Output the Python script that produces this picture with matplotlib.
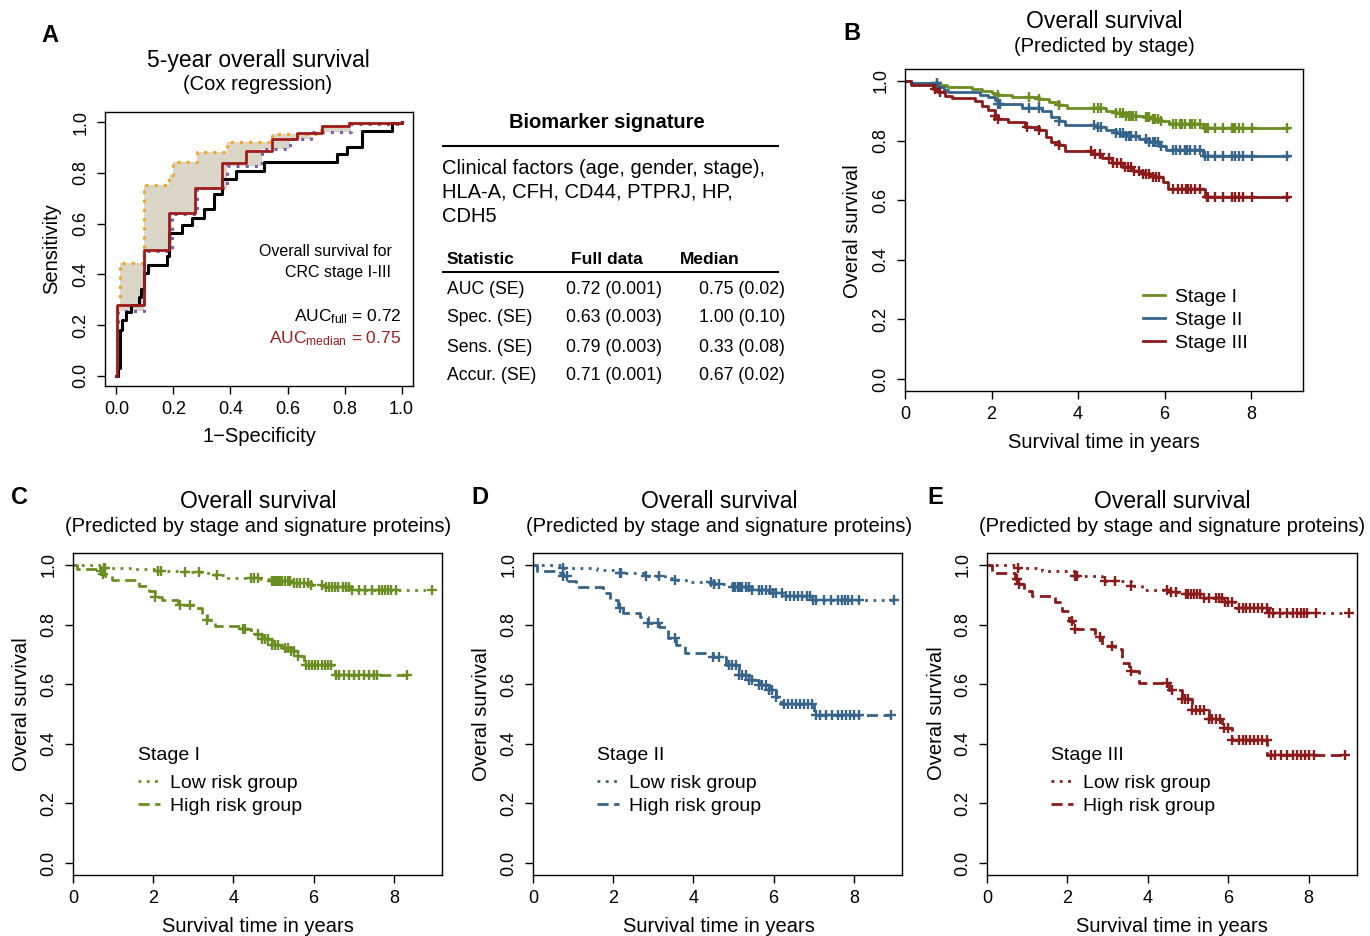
import numpy as np
import matplotlib
matplotlib.use("Agg")
import matplotlib.pyplot as plt

plt.rcParams['font.family'] = ['Liberation Sans', 'DejaVu Sans']
plt.rcParams['mathtext.fontset'] = 'custom'
plt.rcParams['mathtext.rm'] = 'Liberation Sans'
plt.rcParams['mathtext.it'] = 'Liberation Sans:italic'

W, H = 1370, 936
GREEN = '#6b8e23'
BLUE = '#36648b'
RED = '#8b1a1a'
ROC_RED = '#a01c1c'

# ---- panel A: ROC curves (fpr, sensitivity knots of step curves) ----
roc_full_fpr = [0, 0.004, 0.012, 0.02, 0.035, 0.051, 0.078, 0.087, 0.096, 0.11, 0.178, 0.186,
                0.23, 0.266, 0.306, 0.342, 0.371, 0.418, 0.517, 0.774, 0.809, 0.862, 0.967, 1.0]
roc_full_sens = [0, 0.03, 0.182, 0.221, 0.252, 0.281, 0.311, 0.343, 0.406, 0.436, 0.472, 0.564,
                 0.593, 0.623, 0.656, 0.715, 0.775, 0.808, 0.841, 0.874, 0.904, 0.966, 0.996, 1.0]
roc_med_fpr = [0, 0.003, 0.096, 0.186, 0.277, 0.371, 0.453, 0.546, 0.634, 0.722, 0.815, 1.0]
roc_med_sens = [0, 0.281, 0.498, 0.643, 0.742, 0.838, 0.887, 0.935, 0.959, 0.983, 0.996, 1.0]
roc_hi_fpr = [0, 0.003, 0.014, 0.096, 0.186, 0.2, 0.283, 0.389, 0.546, 0.716, 0.815, 1.0]
roc_hi_sens = [0, 0.281, 0.445, 0.751, 0.79, 0.843, 0.883, 0.92, 0.953, 0.985, 0.996, 1.0]
roc_lo_fpr = [0, 0.005, 0.096, 0.195, 0.283, 0.389, 0.511, 0.61, 0.681, 0.821, 1.0]
roc_lo_sens = [0, 0.254, 0.491, 0.637, 0.742, 0.828, 0.893, 0.933, 0.962, 0.992, 1.0]

# ---- panel B: KM by stage ----
st1_t = [0, 0.15, 0.77, 0.96, 1.54, 1.77, 2.0, 2.16, 2.47, 3.09, 3.33, 3.56, 3.75, 4.64, 4.87,
         5.1, 5.5, 5.73, 5.88, 6.1, 6.89]
st1_s = [1.0, 0.993, 0.985, 0.978, 0.972, 0.966, 0.958, 0.953, 0.947, 0.940, 0.930, 0.920, 0.910,
         0.900, 0.893, 0.884, 0.878, 0.872, 0.866, 0.856, 0.842]
st1_end = 8.86
st1_c = [0.74, 2.16, 2.86, 3.09, 3.56, 4.37, 4.45, 4.52, 4.88, 4.96, 5.03, 5.11, 5.17, 5.22, 5.28,
         5.34, 5.57, 5.61, 5.65, 5.73, 5.79, 5.85, 5.92, 6.2, 6.27, 6.35, 6.41, 6.47, 6.58, 6.64,
         6.70, 6.81, 6.93, 6.97, 7.01, 7.16, 7.36, 7.55, 7.6, 7.63, 7.71, 7.82, 8.02, 8.83]

st2_t = [0, 0.15, 0.77, 0.91, 1.0, 1.73, 1.93, 2.09, 2.16, 2.7, 3.17, 3.37, 3.56, 3.71, 4.41,
         4.64, 4.87, 5.1, 5.42, 5.65, 5.88, 6.04, 6.89]
st2_s = [1.0, 0.993, 0.978, 0.970, 0.962, 0.953, 0.945, 0.937, 0.922, 0.908, 0.898, 0.880, 0.867,
         0.853, 0.845, 0.836, 0.826, 0.815, 0.806, 0.794, 0.781, 0.770, 0.747]
st2_end = 8.86
st2_c = [0.74, 2.16, 2.2, 2.86, 3.09, 3.56, 4.37, 4.45, 4.52, 4.88, 4.96, 5.03, 5.11, 5.17, 5.22,
         5.34, 5.57, 5.65, 5.73, 5.79, 5.85, 5.92, 6.2, 6.27, 6.35, 6.47, 6.52, 6.58, 6.70, 6.81,
         6.93, 7.01, 7.16, 7.36, 7.55, 7.63, 7.71, 7.82, 8.02, 8.83]

st3_t = [0, 0.15, 0.65, 0.77, 0.92, 1.08, 1.62, 1.77, 1.93, 2.09, 2.16, 2.39, 2.78, 3.09, 3.25,
         3.37, 3.56, 3.71, 4.33, 4.56, 4.79, 5.02, 5.26, 5.5, 5.73, 5.96, 6.08, 6.93]
st3_s = [1.0, 0.985, 0.973, 0.962, 0.951, 0.942, 0.931, 0.917, 0.901, 0.884, 0.872, 0.863, 0.845,
         0.836, 0.811, 0.794, 0.785, 0.766, 0.755, 0.741, 0.725, 0.710, 0.699, 0.688, 0.677,
         0.660, 0.638, 0.610]
st3_end = 8.86
st3_c = [0.69, 0.8, 2.09, 2.16, 2.81, 3.09, 3.56, 4.3, 4.4, 4.5, 4.72, 4.8, 4.9, 5.0, 5.08, 5.15,
         5.22, 5.3, 5.42, 5.5, 5.58, 5.65, 5.73, 5.8, 5.88, 6.2, 6.3, 6.4, 6.5, 6.55, 6.6, 6.7,
         6.81, 6.97, 7.01, 7.16, 7.36, 7.55, 7.63, 7.71, 7.82, 8.02, 8.83]

# ---- panel C: stage I risk groups ----
c_low_t = [0, 0.77, 1.5, 2.13, 2.8, 3.3, 3.54, 3.79, 4.62, 4.95, 5.44, 5.94, 6.27, 6.93]
c_low_s = [1.0, 0.99, 0.986, 0.981, 0.977, 0.972, 0.966, 0.957, 0.953, 0.945, 0.940, 0.932,
           0.925, 0.917]
c_low_end = 8.96
c_low_c = [0.77, 0.8, 2.13, 2.2, 2.8, 3.13, 3.58, 4.45, 4.52, 4.6, 4.95, 5.0, 5.05, 5.1, 5.15,
           5.2, 5.28, 5.35, 5.42, 5.5, 5.58, 5.66, 5.75, 5.85, 5.94, 6.22, 6.3, 6.38, 6.45, 6.52,
           6.6, 6.72, 6.8, 6.88, 6.96, 7.12, 7.28, 7.45, 7.62, 7.7, 7.78, 7.86, 7.94, 8.05, 8.96]
c_high_t = [0, 0.1, 0.65, 0.73, 0.81, 0.98, 1.64, 1.89, 2.05, 2.22, 2.63, 3.04, 3.21, 3.33, 3.54,
            4.2, 4.45, 4.7, 4.95, 5.2, 5.44, 5.61, 5.77, 6.52]
c_high_s = [1.0, 0.988, 0.979, 0.970, 0.962, 0.951, 0.928, 0.911, 0.891, 0.883, 0.867, 0.855,
            0.833, 0.816, 0.794, 0.786, 0.768, 0.753, 0.733, 0.721, 0.710, 0.693, 0.665, 0.632]
c_high_end = 8.32
c_high_c = [0.69, 0.75, 2.05, 2.67, 2.92, 3.33, 4.24, 4.3, 4.62, 4.7, 4.78, 4.86, 4.95, 5.03,
            5.11, 5.28, 5.36, 5.44, 5.52, 5.61, 5.8, 5.88, 5.96, 6.04, 6.12, 6.2, 6.28, 6.36,
            6.44, 6.56, 6.64, 6.76, 6.88, 7.0, 7.12, 7.25, 7.38, 7.5, 7.59, 8.32]

# ---- panel D: stage II risk groups ----
d_low_t = [0, 0.75, 1.6, 2.16, 2.82, 3.3, 3.53, 3.82, 4.48, 4.98, 5.47, 5.97, 6.22, 6.97]
d_low_s = [1.0, 0.99, 0.984, 0.973, 0.962, 0.955, 0.948, 0.942, 0.935, 0.925, 0.917, 0.906,
           0.895, 0.883]
d_low_end = 8.99
d_low_c = [0.75, 2.16, 2.2, 2.82, 3.15, 3.53, 4.44, 4.52, 4.64, 4.98, 5.04, 5.1, 5.16, 5.22, 5.3,
           5.38, 5.47, 5.64, 5.72, 5.8, 5.9, 5.98, 6.06, 6.2, 6.3, 6.4, 6.5, 6.6, 6.7, 6.82, 6.9,
           6.97, 7.05, 7.25, 7.42, 7.6, 7.7, 7.78, 7.86, 7.95, 8.12, 8.99]
d_high_t = [0, 0.09, 0.67, 0.75, 0.88, 1.08, 1.75, 1.91, 2.12, 2.24, 2.66, 2.87, 3.15, 3.36, 3.57,
            3.78, 4.48, 4.81, 5.14, 5.39, 5.64, 5.89, 6.05, 6.18, 7.0]
d_high_s = [1.0, 0.981, 0.972, 0.962, 0.945, 0.925, 0.906, 0.883, 0.855, 0.838, 0.827, 0.805,
            0.793, 0.754, 0.732, 0.706, 0.692, 0.664, 0.631, 0.614, 0.597, 0.581, 0.558, 0.532,
            0.496]
d_high_end = 8.93
d_high_c = [0.75, 0.84, 2.16, 2.87, 3.11, 3.53, 4.48, 4.64, 4.89, 4.97, 5.05, 5.14, 5.22, 5.3,
            5.39, 5.47, 5.64, 5.72, 5.8, 5.89, 5.97, 6.05, 6.25, 6.35, 6.45, 6.55, 6.65, 6.75,
            6.85, 6.95, 7.05, 7.15, 7.3, 7.45, 7.6, 7.7, 7.8, 7.9, 8.0, 8.12, 8.93]

# ---- panel E: stage III risk groups ----
e_low_t = [0, 0.78, 1.36, 2.19, 2.86, 3.57, 3.86, 4.52, 4.94, 5.35, 5.85, 6.18, 7.02]
e_low_s = [1.0, 0.989, 0.981, 0.964, 0.947, 0.930, 0.917, 0.910, 0.902, 0.888, 0.876, 0.857,
           0.840]
e_low_end = 8.99
e_low_c = [0.78, 2.19, 2.23, 2.94, 3.19, 3.57, 4.48, 4.58, 4.69, 4.94, 5.0, 5.08, 5.15, 5.22,
           5.3, 5.4, 5.52, 5.69, 5.76, 5.84, 5.92, 6.0, 6.1, 6.27, 6.36, 6.45, 6.55, 6.65, 6.75,
           6.85, 6.95, 7.02, 7.1, 7.28, 7.45, 7.62, 7.72, 7.8, 7.88, 7.96, 8.18, 8.99]
e_high_t = [0, 0.12, 0.7, 0.78, 0.91, 1.12, 1.7, 1.86, 2.03, 2.15, 2.69, 2.86, 3.19, 3.36, 3.52,
            3.77, 4.52, 4.85, 5.1, 5.52, 5.85, 6.1, 6.97]
e_high_s = [1.0, 0.973, 0.953, 0.936, 0.914, 0.897, 0.874, 0.846, 0.813, 0.785, 0.757, 0.729,
            0.717, 0.672, 0.644, 0.605, 0.582, 0.549, 0.515, 0.482, 0.454, 0.414, 0.364]
e_high_end = 8.91
e_high_c = [0.74, 0.8, 2.11, 2.19, 2.82, 3.11, 3.57, 4.48, 4.6, 4.85, 4.93, 5.0, 5.1, 5.2, 5.3,
            5.4, 5.52, 5.6, 5.7, 5.8, 5.9, 6.0, 6.1, 6.27, 6.36, 6.45, 6.55, 6.65, 6.75, 6.85,
            6.95, 7.05, 7.15, 7.3, 7.45, 7.6, 7.7, 7.8, 7.9, 8.0, 8.12, 8.91]

# ---- table ----
markers_text = ["Clinical factors (age, gender, stage),", "HLA-A, CFH, CD44, PTPRJ, HP,", "CDH5"]
tab_header = ["Statistic", "Full data", "Median"]
tab_stat = ["AUC (SE)", "Spec. (SE)", "Sens. (SE)", "Accur. (SE)"]
tab_full = ["0.72 (0.001)", "0.63 (0.003)", "0.79 (0.003)", "0.71 (0.001)"]
tab_median = ["0.75 (0.02)", "1.00 (0.10)", "0.33 (0.08)", "0.67 (0.02)"]

surv_ticks = [0, 2, 4, 6, 8]
prob_ticks = [0.0, 0.2, 0.4, 0.6, 0.8, 1.0]


def px_axes(fig, left, top, right, bottom):
    return fig.add_axes([left / W, 1 - bottom / H, (right - left) / W, (bottom - top) / H])


def r_axes(ax, xticks, xlim):
    ax.set_xlim(*xlim)
    ax.set_ylim(-0.04, 1.04)
    ax.set_xticks(xticks)
    ax.set_yticks(prob_ticks)
    ax.set_yticklabels([f"{v:.1f}" for v in prob_ticks])
    ax.tick_params(length=6, width=1, pad=5, labelsize=13)
    plt.setp(ax.get_yticklabels(), rotation=90, va='center')
    for s in ax.spines.values():
        s.set_linewidth(1.0)


def steps(x, y):
    x = np.asarray(x, float)
    y = np.asarray(y, float)
    return np.repeat(x, 2)[1:], np.repeat(y, 2)[:-1]


def km(ax, t, s, t_end, cens, color, ls):
    ax.plot(list(t) + [t_end], list(s) + [s[-1]], drawstyle='steps-post', color=color, lw=2, ls=ls)
    idx = np.searchsorted(t, cens, side='right') - 1
    ax.plot(cens, np.asarray(s)[idx], ls='none', marker='+', ms=7.5, mew=1.7, color=color)


DOT = (0, (1, 2))
DASH = (0, (4, 2))

fig = plt.figure(figsize=(W / 100, H / 100), dpi=100)
# full-figure overlay in pixel coordinates for titles, labels and the table
ov = fig.add_axes([0, 0, 1, 1])
ov.set_xlim(0, W)
ov.set_ylim(H, 0)
ov.axis('off')
ov.set_zorder(10)

# panel A
axA = px_axes(fig, 105, 112, 413, 386)
r_axes(axA, [0.0, 0.2, 0.4, 0.6, 0.8, 1.0], (-0.04, 1.04))
axA.set_xticklabels(["0.0", "0.2", "0.4", "0.6", "0.8", "1.0"])
ux, uy = steps(roc_hi_fpr, roc_hi_sens)
lx, ly = steps(roc_lo_fpr, roc_lo_sens)
axA.fill(np.r_[ux, lx[::-1]], np.r_[uy, ly[::-1]], color='#d9d5c7', lw=0)
axA.plot(roc_hi_fpr, roc_hi_sens, drawstyle='steps-post', color='#f5a623', lw=2.2, ls=DOT)
axA.plot(roc_lo_fpr, roc_lo_sens, drawstyle='steps-post', color='#7b5cb0', lw=2.2, ls=DOT)
axA.plot(roc_full_fpr, roc_full_sens, drawstyle='steps-post', color='black', lw=2.2)
axA.plot(roc_med_fpr, roc_med_sens, drawstyle='steps-post', color=ROC_RED, lw=2)

ov.text(392, 252, "Overall survival for", ha='right', va='center', fontsize=11.5)
ov.text(391, 273, "CRC stage I-III", ha='right', va='center', fontsize=11.5)
ov.text(401, 317, r"AUC$_{\mathrm{full}}$ = 0.72", ha='right', va='center', fontsize=12.5)
ov.text(401, 339, r"AUC$_{\mathrm{median}}$ = 0.75", ha='right', va='center', fontsize=12.5,
        color=ROC_RED)

# panel B
axB = px_axes(fig, 905, 69, 1303, 391)
r_axes(axB, surv_ticks, (0, 9.2))
km(axB, st1_t, st1_s, st1_end, st1_c, GREEN, '-')
km(axB, st2_t, st2_s, st2_end, st2_c, BLUE, '-')
km(axB, st3_t, st3_s, st3_end, st3_c, RED, '-')
hB = [plt.Line2D([], [], color=c, lw=2) for c in (GREEN, BLUE, RED)]
axB.legend(hB, ["Stage I", "Stage II", "Stage III"], loc='upper left',
           bbox_to_anchor=((1143 - 905) / 398, (391 - 288) / 322), frameon=False, fontsize=14,
           handlelength=1.15, handletextpad=0.5, borderpad=0, borderaxespad=0, labelspacing=0.28)

# panels C-E
panels = [
    (73, 442, 138, "Stage I", GREEN, (c_low_t, c_low_s, c_low_end, c_low_c),
     (c_high_t, c_high_s, c_high_end, c_high_c)),
    (533, 902, 597, "Stage II", BLUE, (d_low_t, d_low_s, d_low_end, d_low_c),
     (d_high_t, d_high_s, d_high_end, d_high_c)),
    (987, 1357, 1051, "Stage III", RED, (e_low_t, e_low_s, e_low_end, e_low_c),
     (e_high_t, e_high_s, e_high_end, e_high_c)),
]
for left, right, lx0, stage, col, low, high in panels:
    ax = px_axes(fig, left, 553, right, 875)
    r_axes(ax, surv_ticks, (0, 9.2))
    km(ax, *low, col, DOT)
    km(ax, *high, col, DASH)
    hs = [plt.Line2D([], [], color=col, lw=2, ls=DOT), plt.Line2D([], [], color=col, lw=2, ls=DASH)]
    ax.legend(hs, ["Low risk group", "High risk group"], loc='upper left',
              bbox_to_anchor=((lx0 - left) / (right - left), (875 - 774) / 322),
              frameon=False, fontsize=14, handlelength=1.15, handletextpad=0.5, borderpad=0,
              borderaxespad=0, labelspacing=0.28)
    ov.text(lx0, 755, stage, ha='left', va='center', fontsize=14)

# titles and axis labels
ov.text(258, 60, "5-year overall survival", ha='center', va='center', fontsize=16.5)
ov.text(258, 85, "(Cox regression)", ha='center', va='center', fontsize=14.5)
ov.text(259, 436, "1\u2212Specificity", ha='center', va='center', fontsize=14.5)
ov.text(52, 249, "Sensitivity", ha='center', va='center', fontsize=14.5, rotation=90)

ov.text(1104, 21, "Overall survival", ha='center', va='center', fontsize=16.5)
ov.text(1104, 47, "(Predicted by stage)", ha='center', va='center', fontsize=14.5)
ov.text(1104, 442, "Survival time in years", ha='center', va='center', fontsize=14.5)
ov.text(853, 231, "Overal survival", ha='center', va='center', fontsize=14.5, rotation=90)

for cx, ylx, yly in [(258, 22, 704), (719, 482, 714), (1172, 937, 713)]:
    ov.text(cx, 501, "Overall survival", ha='center', va='center', fontsize=16.5)
    ov.text(cx, 527, "(Predicted by stage and signature proteins)", ha='center', va='center',
            fontsize=14.5)
    ov.text(cx, 926, "Survival time in years", ha='center', va='center', fontsize=14.5)
    ov.text(ylx, yly, "Overal survival", ha='center', va='center', fontsize=14.5, rotation=90)

for lab, x, y in [("A", 50, 35), ("B", 852, 33), ("C", 20, 498), ("D", 480, 498), ("E", 935, 498)]:
    ov.text(x, y, lab, ha='center', va='center', fontsize=17, fontweight='bold')

# table
ov.text(607, 123, "Biomarker signature", ha='center', va='center', fontsize=14.5, fontweight='bold')
ov.plot([443, 778], [146, 146], color='black', lw=1.5)
for i, line in enumerate(markers_text):
    ov.text(442, 168 + 24.5 * i, line, ha='left', va='center', fontsize=14.5)
for x, h in zip([447, 571, 680], tab_header):
    ov.text(x, 260, h, ha='left', va='center', fontsize=12.5, fontweight='bold')
ov.plot([443, 778], [272, 272], color='black', lw=1.5)
for i in range(len(tab_stat)):
    y = 289 + 29 * i
    ov.text(447, y, tab_stat[i], ha='left', va='center', fontsize=12.7)
    ov.text(566, y, tab_full[i], ha='left', va='center', fontsize=12.7)
    ov.text(785, y, tab_median[i], ha='right', va='center', fontsize=12.7)

fig.savefig("out.png", dpi=100)
